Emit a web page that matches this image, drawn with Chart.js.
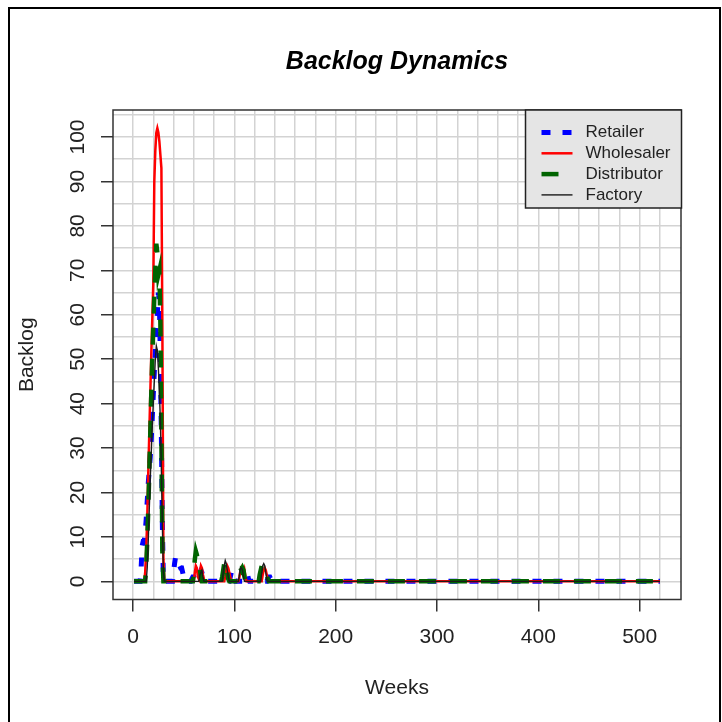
<!DOCTYPE html>
<html>
<head>
<meta charset="utf-8">
<title>Backlog Dynamics</title>
<script src="https://cdn.jsdelivr.net/npm/chart.js@4/dist/chart.umd.min.js"></script>
<style>
	html, body { margin: 0; padding: 0; background: #fff; overflow: hidden; }
	#frame { position: absolute; left: 8px; top: 7px; width: 709px; height: 730px; border: 2px solid #000; pointer-events: none; }
	canvas { position: absolute; left: 0; top: 0; }
</style>
</head>
<body>
<canvas id="backlogChart" width="722" height="722"></canvas>
<div id="frame"></div>
<script>
// weekly backlog, weeks 1..140 (everything after that sits at 0 up to week 520)
const retailer = [
	0, 0, 0, 0, 0, 0, 0, 3, 8, 9,
	9, 11, 14, 18, 22, 25, 28, 32, 37, 42,
	47, 52, 57, 60, 65, 63, 50, 32, 12, 0,
	0, 0, 0, 0, 0, 0, 0, 0, 0, 2,
	4, 5.5, 5.5, 5, 4, 3.5, 3, 3, 2, 1,
	0, 0, 0, 0, 0, 0, 0, 0.5, 1, 1,
	0.5, 0, 0, 0, 1, 2, 2.5, 2, 1, 0,
	0, 0, 0, 0, 0, 0, 0, 0, 0, 0,
	0, 0, 0, 0, 0, 0, 0, 0, 0, 0,
	0, 0, 0, 0, 0, 1, 2, 2.5, 1.5, 0.5,
	0, 0, 0, 0, 0, 0, 0, 0, 0, 0,
	1, 1.5, 1.5, 0.5, 0, 0, 0, 0, 0, 0,
	0, 0, 0, 0, 0, 0, 0, 0, 0, 0,
	0, 0, 0.5, 1, 1, 0.5, 0, 0, 0, 0
];
const wholesaler = [
	0, 0, 0, 0, 0, 0, 0, 0, 0, 0,
	0, 2, 7, 14, 24, 33, 42, 51, 59, 67,
	90, 97, 101, 102, 101, 99, 96, 93, 55, 5,
	0, 0, 0, 0, 0, 0, 0, 0, 0, 0,
	0, 0, 0, 0, 0, 0, 0, 0, 0, 0,
	0, 0, 0, 0, 0, 0, 0, 0, 0, 0,
	2, 3.5, 3, 1, 0.5, 2, 3.5, 3, 1.5, 0.5,
	0, 0, 0, 0, 0, 0, 0, 0, 0, 0,
	0, 0, 0, 0, 0, 0, 0, 0, 0, 0,
	1, 2.5, 3.5, 3, 2, 1, 0, 0, 0, 0,
	0, 0, 0, 0, 1, 2.5, 3, 2, 1.5, 2.5,
	1, 0, 0, 0, 0, 0, 0, 0, 0, 0,
	0, 0, 0, 0, 0, 0, 0, 1.5, 2.5, 3,
	2.5, 1.5, 0.5, 0, 0, 0, 0, 0, 0, 0
];
const distributor = [
	0, 0, 0, 0, 0, 0, 0, 0, 0, 0,
	0, 0, 3, 9, 16, 24, 33, 42, 50, 57,
	64, 70, 76, 74, 69, 70, 58, 32, 6, 0,
	0, 0, 0, 0, 0, 0, 0, 0, 0, 0,
	0, 0, 0, 0, 0, 0, 0, 0, 0, 0,
	0, 0, 0, 0, 0, 0, 0, 0, 0, 2,
	5, 6.8, 6, 4.5, 4, 2.5, 1, 0, 0, 0,
	0, 0, 0, 0, 0, 0, 0, 0, 0, 0,
	0, 0, 0, 0, 0, 0, 0, 1, 2.5, 4,
	4.4, 3.5, 2, 0.5, 0, 0, 0, 0, 0, 0,
	0, 0, 0, 2, 3, 3, 2.5, 3, 2.5, 1,
	0, 0, 0, 0, 0, 0, 0, 0, 0, 0,
	0, 0, 0, 0, 1.5, 2.5, 3.5, 3.6, 3.5, 3,
	2.5, 1.5, 0.5, 0, 0, 0, 0, 0, 0, 0
];
const factory = [
	0, 0, 0, 0, 0, 0, 0, 0, 0, 0,
	0, 0, 0, 3, 9, 16, 23, 29, 35, 40,
	45, 50, 53, 52, 48, 43, 36, 25, 12, 2,
	0, 0, 0, 0, 0, 0, 0, 0, 0, 0,
	0, 0, 0, 0, 0, 0, 0, 0, 0, 0,
	0, 0, 0, 0, 0, 0, 0, 0, 0, 0,
	0, 0, 0, 0, 0, 1.5, 2, 2.5, 1, 0,
	0, 0, 0, 0, 0, 0, 0, 0, 0, 0,
	0, 0, 0, 0, 0, 0, 0, 0, 2, 3.5,
	4.7, 4, 2.5, 1, 0, 0, 0, 0, 0, 0,
	0, 0, 0, 0, 1.5, 3, 3, 2.5, 1, 0,
	0, 0, 0, 0, 0, 0, 0, 0, 0, 0,
	0, 0, 0, 0, 0, 0, 2, 3.5, 4, 3.5,
	2, 0.5, 0, 0, 0, 0, 0, 0, 0, 0
];
const finalWeek = 520;
const finalBacklog = [0, 0, 0, 0];

const seriesNames = ['Retailer', 'Wholesaler', 'Distributor', 'Factory'];
const xTickLabels = [0, 100, 200, 300, 400, 500];
const xGridWeeks = [0, 20, 40, 60, 80, 100, 120, 140, 160, 180, 200, 220, 240, 260, 280, 300, 320, 340, 360, 380, 400, 420, 440, 460, 480, 500, 520];
const yTickLabels = [0, 10, 20, 30, 40, 50, 60, 70, 80, 90, 100];
const yGridValues = [0, 5, 10, 15, 20, 25, 30, 35, 40, 45, 50, 55, 60, 65, 70, 75, 80, 85, 90, 95, 100, 105];

const FONT = '"Liberation Sans", Arial, sans-serif';
Chart.defaults.font.family = FONT;
Chart.defaults.color = '#222';

function toPoints(values, tail) {
	const pts = values.map((v, i) => ({ x: i + 1, y: v }));
	pts.push({ x: finalWeek, y: tail });
	return pts;
}

const styles = [
	{ color: '#0000ff', width: 5, dash: [9, 12] },
	{ color: '#ff0000', width: 2.5, dash: [] },
	{ color: '#006400', width: 4.5, dash: [17, 14] },
	{ color: '#1a1a1a', width: 1.4, dash: [] }
];

// retailer is drawn first and factory last, as in the original plot
const datasets = [retailer, wholesaler, distributor, factory].map((values, i) => ({
	label: seriesNames[i],
	data: toPoints(values, finalBacklog[i]),
	order: 4 - i,
	borderColor: styles[i].color,
	borderWidth: styles[i].width,
	borderDash: styles[i].dash,
	borderCapStyle: 'butt',
	pointRadius: 0,
	tension: 0,
	fill: false
}));

// R style box round the plot region
const boxPlugin = {
	id: 'plotBox',
	afterDraw(chart) {
		const { ctx, chartArea: a } = chart;
		ctx.save();
		ctx.strokeStyle = '#333';
		ctx.lineWidth = 1.5;
		ctx.strokeRect(a.left, a.top, a.right - a.left, a.bottom - a.top);
		ctx.restore();
	}
};

// grey legend box in the top right corner
const legendPlugin = {
	id: 'boxLegend',
	afterDraw(chart) {
		const { ctx, chartArea: a } = chart;
		const right = a.right + 0.5;
		const left = right - 156;
		const top = a.top;
		const rowH = 20.8;
		ctx.save();
		ctx.fillStyle = '#e5e5e5';
		ctx.fillRect(left, top, right - left, 98);
		ctx.strokeStyle = '#222';
		ctx.lineWidth = 1.5;
		ctx.strokeRect(left, top, right - left, 98);
		chart.data.datasets.forEach((ds, i) => {
			const y = top + 22.5 + i * rowH;
			ctx.beginPath();
			ctx.strokeStyle = ds.borderColor;
			ctx.lineWidth = ds.borderWidth;
			ctx.setLineDash(ds.borderDash);
			ctx.moveTo(left + 16, y);
			ctx.lineTo(left + 47, y);
			ctx.stroke();
			ctx.setLineDash([]);
			ctx.fillStyle = '#222';
			ctx.font = '17px ' + FONT;
			ctx.textBaseline = 'middle';
			ctx.textAlign = 'left';
			ctx.fillText(ds.label, left + 60, y);
		});
		ctx.restore();
	}
};

const ctx = document.getElementById('backlogChart').getContext('2d');
new Chart(ctx, {
	type: 'line',
	data: { datasets: datasets },
	plugins: [boxPlugin, legendPlugin],
	options: {
		responsive: false,
		animation: false,
		devicePixelRatio: 1,
		layout: { padding: { left: 0, right: 41, top: 0, bottom: 0 } },
		plugins: {
			legend: { display: false },
			tooltip: { enabled: false },
			title: {
				display: true,
				text: 'Backlog Dynamics',
				fullSize: false,
				color: '#000',
				font: { size: 25, weight: 'bold', style: 'italic' },
				padding: { top: 47, bottom: 33 }
			}
		},
		scales: {
			x: {
				type: 'linear',
				min: -19.76,
				max: 540.76,
				afterBuildTicks: s => { s.ticks = xGridWeeks.map(v => ({ value: v })); },
				afterFit: s => { s.height = 122.5; },
				border: { display: false },
				grid: {
					color: '#d3d3d3',
					lineWidth: 1.5,
					tickLength: 12,
					tickWidth: 1.5,
					tickColor: c => xTickLabels.includes(c.tick && c.tick.value) ? '#333' : 'rgba(0,0,0,0)'
				},
				ticks: {
					autoSkip: false,
					maxRotation: 0,
					padding: 13,
					font: { size: 21 },
					callback: v => xTickLabels.includes(v) ? String(v) : ''
				},
				title: {
					display: true,
					text: 'Weeks',
					font: { size: 21 },
					padding: { top: 0, bottom: 21 }
				}
			},
			y: {
				type: 'linear',
				min: -4.08,
				max: 106.08,
				afterBuildTicks: s => { s.ticks = yGridValues.map(v => ({ value: v })); },
				afterFit: s => { s.width = 113; },
				border: { display: false },
				grid: {
					color: '#d3d3d3',
					lineWidth: 1.5,
					tickLength: 12,
					tickWidth: 1.5,
					tickColor: c => yTickLabels.includes(c.tick && c.tick.value) ? '#333' : 'rgba(0,0,0,0)'
				},
				ticks: {
					autoSkip: false,
					minRotation: 90,
					maxRotation: 90,
					crossAlign: 'center',
					padding: 5,
					font: { size: 21 },
					callback: v => yTickLabels.includes(v) ? String(v) : ''
				},
				title: {
					display: true,
					text: 'Backlog',
					font: { size: 21 },
					padding: { top: 14.4, bottom: 0 }
				}
			}
		}
	}
});
</script>
</body>
</html>
